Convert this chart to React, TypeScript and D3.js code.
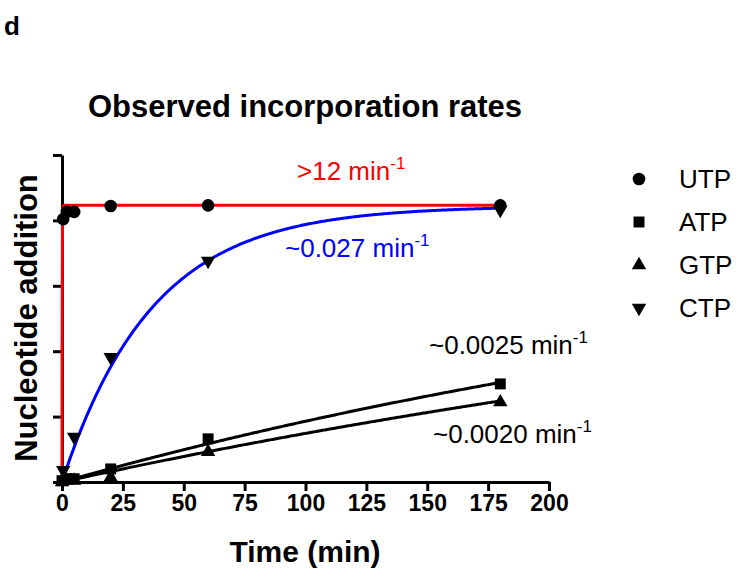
import React, { useEffect, useRef } from 'react';
import * as d3 from 'd3';

// Observed incorporation rates (panel d)
const xTicks = [0, 25, 50, 75, 100, 125, 150, 175, 200];
const yTicks = [0, 1, 2, 3, 4, 5];

const seriesNames = ['UTP', 'ATP', 'GTP', 'CTP'];

const utpTime = [0.5, 2, 5, 20, 60, 180];
const utpValue = [4.02, 4.13, 4.13, 4.22, 4.23, 4.23];

const atpTime = [0, 2, 5, 20, 60, 180];
const atpValue = [0.02, 0.05, 0.05, 0.2, 0.66, 1.5];

const gtpTime = [0, 2, 5, 20, 60, 180];
const gtpValue = [0.0, 0.02, 0.02, 0.07, 0.46, 1.22];

const ctpTime = [0.5, 5, 20, 60, 180];
const ctpValue = [0.18, 0.69, 1.91, 3.38, 4.16];

// one-phase association fits: plateau * (1 - exp(-k t))
const fitRates = [12, 0.0025, 0.002, 0.027];
const fitPlateaus = [4.23, 4.2, 4.1, 4.22];
const rateLabels = ['>12 min', '~0.0025 min', '~0.0020 min', '~0.027 min'];

const FONT = 'Arial, "Liberation Sans", Helvetica, sans-serif';

export default function App() {
  const svgRef = useRef<SVGSVGElement | null>(null);

  useEffect(() => {
    if (!svgRef.current) return;
    const width = 739;
    const height = 585;

    const svg = d3.select(svgRef.current);
    svg.selectAll('*').remove();
    svg.attr('width', width).attr('height', height);

    const x = d3.scaleLinear().domain([0, 200]).range([62, 549]);
    const y = d3.scaleLinear().domain([0, 5]).range([482, 155]);

    const fitColors = ['#ff0000', '#000000', '#000000', '#0000ff'];
    const symbols = [d3.symbolCircle, d3.symbolSquare, d3.symbolTriangle, d3.symbolTriangle];
    const symbolSizes = [125, 120, 90, 90];
    const rotations = [0, 0, 0, 180];

    // panel letter and title
    svg.append('text')
      .attr('x', 4).attr('y', 35)
      .attr('font-family', FONT).attr('font-weight', 'bold').attr('font-size', 26)
      .text('d');

    svg.append('text')
      .attr('x', 305).attr('y', 117)
      .attr('text-anchor', 'middle')
      .attr('font-family', FONT).attr('font-weight', 'bold').attr('font-size', 31)
      .text('Observed incorporation rates');

    // axes
    const xAxis = d3.axisBottom(x).tickValues(xTicks).tickSize(9).tickSizeOuter(0).tickPadding(4);
    const gx = svg.append('g').attr('transform', `translate(0, ${y(0)})`).call(xAxis);
    gx.select('.domain').attr('stroke-width', 3).attr('stroke', '#000');
    gx.selectAll('.tick line').attr('stroke-width', 3).attr('stroke', '#000');
    gx.selectAll('text')
      .attr('font-family', FONT).attr('font-weight', 'bold').attr('font-size', 23).attr('fill', '#000');

    const yAxis = d3.axisLeft(y).tickValues(yTicks).tickSize(9).tickSizeOuter(0).tickFormat(() => '');
    const gy = svg.append('g').attr('transform', `translate(${x(0)}, 0)`).call(yAxis);
    gy.select('.domain').attr('stroke-width', 3).attr('stroke', '#000');
    gy.selectAll('.tick line').attr('stroke-width', 3).attr('stroke', '#000');

    svg.append('text')
      .attr('x', 305).attr('y', 562)
      .attr('text-anchor', 'middle')
      .attr('font-family', FONT).attr('font-weight', 'bold').attr('font-size', 30)
      .text('Time (min)');

    svg.append('text')
      .attr('transform', `translate(37, 318) rotate(-90)`)
      .attr('text-anchor', 'middle')
      .attr('font-family', FONT).attr('font-weight', 'bold').attr('font-size', 31)
      .text('Nucleotide addition');

    // fit curves
    const tSamples = d3.range(0, 1, 0.005).concat(d3.range(1, 180.5, 0.5));
    const line = d3.line<number>().x(t => x(t)).y(t => y(0));
    const drawOrder = [1, 2, 3, 0];
    drawOrder.forEach(i => {
      const k = fitRates[i];
      const p = fitPlateaus[i];
      svg.append('path')
        .datum(tSamples)
        .attr('fill', 'none')
        .attr('stroke', fitColors[i])
        .attr('stroke-width', 3)
        .attr('d', line.y(t => y(p * (1 - Math.exp(-k * t))))(tSamples));
    });

    // data points
    const times = [utpTime, atpTime, gtpTime, ctpTime];
    const values = [utpValue, atpValue, gtpValue, ctpValue];
    times.forEach((ts, i) => {
      svg.append('g')
        .selectAll('path')
        .data(ts.map((t, j) => [t, values[i][j]]))
        .enter()
        .append('path')
        .attr('d', d3.symbol().type(symbols[i]).size(symbolSizes[i])())
        .attr('transform', d => `translate(${x(d[0])}, ${y(d[1])}) rotate(${rotations[i]})`)
        .attr('fill', '#000');
    });

    // rate labels
    const labelPos = [[297, 180], [429, 354], [433, 443], [285, 257]];
    rateLabels.forEach((label, i) => {
      const t = svg.append('text')
        .attr('x', labelPos[i][0]).attr('y', labelPos[i][1])
        .attr('font-family', FONT).attr('font-size', 26)
        .attr('fill', i === 0 ? '#ff0000' : i === 3 ? '#0000ff' : '#000');
      t.append('tspan').text(label);
      t.append('tspan').attr('dy', -11).attr('font-size', 17).text('-1');
    });

    // legend
    seriesNames.forEach((name, i) => {
      const cy = 179 + i * 43;
      svg.append('path')
        .attr('d', d3.symbol().type(symbols[i]).size(symbolSizes[i])())
        .attr('transform', `translate(639, ${cy}) rotate(${rotations[i]})`)
        .attr('fill', '#000');
      svg.append('text')
        .attr('x', 679).attr('y', cy + 9)
        .attr('font-family', FONT).attr('font-size', 26)
        .text(name);
    });
  }, []);

  return (
    <div style={{ position: 'absolute', left: 0, top: 0 }}>
      <svg ref={svgRef} style={{ display: 'block', background: '#fff' }}></svg>
    </div>
  );
}
